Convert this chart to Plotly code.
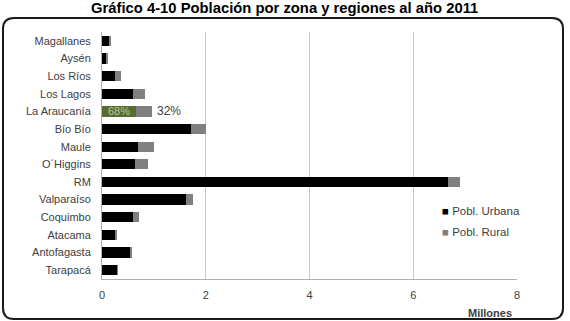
import plotly.graph_objects as go

regiones = ["Magallanes", "Aysén", "Los Ríos", "Los Lagos", "La Araucanía", "Bío Bío",
            "Maule", "O´Higgins", "RM", "Valparaíso", "Coquimbo", "Atacama",
            "Antofagasta", "Tarapacá"]
urbana = [0.15, 0.09, 0.26, 0.59, 0.66, 1.71, 0.69, 0.64, 6.67, 1.61, 0.59, 0.26, 0.55, 0.29]
rural = [0.02, 0.01, 0.10, 0.23, 0.30, 0.30, 0.31, 0.25, 0.23, 0.15, 0.13, 0.02, 0.02, 0.01]
x_ticks = [0, 2, 4, 6, 8]
destacado = "La Araucanía"
pct_urbana = "68%"
pct_rural = "32%"
series = ["Pobl. Urbana", "Pobl. Rural"]
colores = ["#000000", "#808080"]

W, H = 570, 321
L, R, T, B = 102, 53, 32, 42
pw, ph = W - L - R, H - T - B

def px(x):
    return (x - L) / pw

def py(y):
    return (H - B - y) / ph

urb_colors = ["#5a6b2f" if r == destacado else colores[0] for r in regiones]

fig = go.Figure()
fig.add_trace(go.Bar(
    y=regiones, x=urbana, orientation="h", name=series[0],
    marker=dict(color=urb_colors, line=dict(width=0)), showlegend=False,
))
fig.add_trace(go.Bar(
    y=regiones, x=rural, orientation="h", name=series[1],
    marker=dict(color=colores[1], line=dict(width=0)), showlegend=False,
))

idx = regiones.index(destacado)
fig.add_annotation(x=urbana[idx] / 2, y=destacado, xref="x", yref="y",
                   text=pct_urbana, showarrow=False, xanchor="center",
                   font=dict(size=11, color="#b9c98f", family="Liberation Sans"))
fig.add_annotation(x=urbana[idx] + rural[idx], y=destacado, xref="x", yref="y",
                   text=pct_rural, showarrow=False, xanchor="left", xshift=3,
                   font=dict(size=12, color="#404040", family="Liberation Sans"))

# custom legend
for i, (name, col) in enumerate(zip(series, colores)):
    yy = py(211 + 21 * i)
    fig.add_annotation(x=px(440), y=yy, xref="paper", yref="paper",
                       text=f"<span style='color:{col}'>■</span> {name}",
                       showarrow=False, xanchor="left", yanchor="middle",
                       font=dict(size=11.5, color="#404040", family="Liberation Sans"))

# title
fig.add_annotation(x=px(284), y=py(8), xref="paper", yref="paper",
                   text="<b>Gráfico 4-10 Población por zona y regiones al año 2011</b>",
                   showarrow=False, xanchor="center", yanchor="middle",
                   font=dict(size=14.8, color="#000000", family="Liberation Sans"))
# axis unit
fig.add_annotation(x=px(490), y=py(313), xref="paper", yref="paper",
                   text="<b>Millones</b>", showarrow=False,
                   xanchor="center", yanchor="middle",
                   font=dict(size=11, color="#404040", family="Liberation Sans"))

# rounded border
x0, x1 = px(3), px(563)
y0, y1 = py(319), py(18)
rx, ry = 11 / pw, 11 / ph
path = (f"M {x0+rx},{y1} L {x1-rx},{y1} Q {x1},{y1} {x1},{y1-ry} "
        f"L {x1},{y0+ry} Q {x1},{y0} {x1-rx},{y0} "
        f"L {x0+rx},{y0} Q {x0},{y0} {x0},{y0+ry} "
        f"L {x0},{y1-ry} Q {x0},{y1} {x0+rx},{y1} Z")
fig.add_shape(type="path", path=path, xref="paper", yref="paper",
              line=dict(color="#1a1a1a", width=2))

fig.update_layout(
    width=W, height=H, barmode="stack", bargap=0.42,
    margin=dict(l=L, r=R, t=T, b=B),
    paper_bgcolor="white", plot_bgcolor="white",
    showlegend=False,
    xaxis=dict(range=[0, 8], tickvals=x_ticks, ticktext=[str(t) for t in x_ticks],
               showgrid=True, gridcolor="#c8c8c8", gridwidth=1,
               showline=True, linecolor="#b0b0b0", zeroline=False,
               tickfont=dict(size=11, color="#404040", family="Liberation Sans"),
               ticks="", ticklabelstandoff=6),
    yaxis=dict(categoryorder="array", categoryarray=regiones, autorange="reversed",
               showline=True, linecolor="#b0b0b0", showgrid=False,
               tickfont=dict(size=11, color="#404040", family="Liberation Sans"),
               ticks="", ticklabelstandoff=8),
)

fig.write_html("out.html")
